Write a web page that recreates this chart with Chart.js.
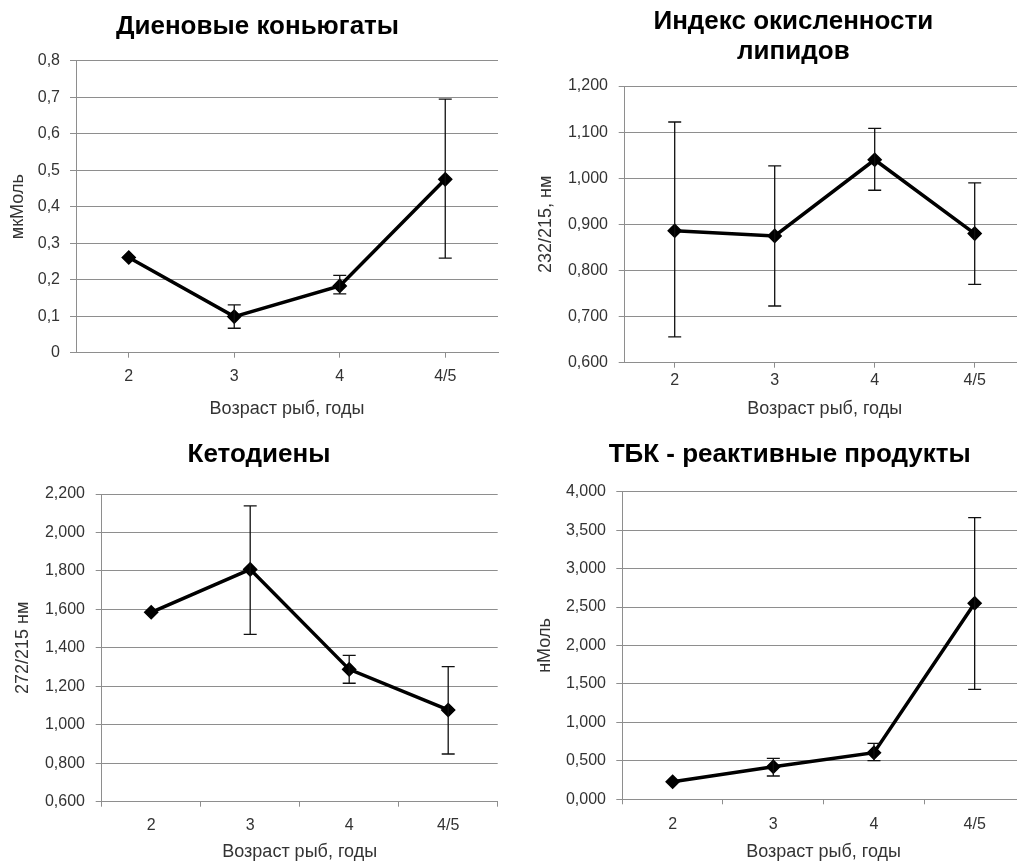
<!DOCTYPE html>
<html>
<head>
<meta charset="utf-8">
<script src="https://cdn.jsdelivr.net/npm/chart.js@4.4.1/dist/chart.umd.min.js"></script>
<style>
html, body { margin: 0; padding: 0; background: #fff; width: 1017px; height: 863px; overflow: hidden; }
.box { position: absolute; }
</style>
</head>
<body>
<div class="box" style="left:0;top:0;width:508px;height:420px"><canvas id="c1"></canvas></div>
<div class="box" style="left:508px;top:0;width:525px;height:420px"><canvas id="c2"></canvas></div>
<div class="box" style="left:0;top:420px;width:508px;height:443px"><canvas id="c3"></canvas></div>
<div class="box" style="left:508px;top:420px;width:525px;height:443px"><canvas id="c4"></canvas></div>
<script>
// data
const ages = ['2', '3', '4', '4/5']
const xTitle = 'Возраст рыб, годы'

// Диеновые коньюгаты
const dienMean = [0.261, 0.099, 0.183, 0.475]
const dienHigh = [null, 0.131, 0.212, 0.695]
const dienLow = [null, 0.067, 0.161, 0.259]
const dienTicks = ['0', '0,1', '0,2', '0,3', '0,4', '0,5', '0,6', '0,7', '0,8']

// Индекс окисленности липидов
const oxMean = [0.886, 0.875, 1.040, 0.880]
const oxHigh = [1.122, 1.027, 1.108, 0.990]
const oxLow = [0.656, 0.723, 0.974, 0.770]
const oxTicks = ['0,600', '0,700', '0,800', '0,900', '1,000', '1,100', '1,200']

// Кетодиены
const ketMean = [1.585, 1.808, 1.288, 1.077]
const ketHigh = [null, 2.138, 1.361, 1.302]
const ketLow = [null, 1.470, 1.216, 0.848]
const ketTicks = ['0,600', '0,800', '1,000', '1,200', '1,400', '1,600', '1,800', '2,000', '2,200']

// ТБК - реактивные продукты
const tbkMean = [0.229, 0.424, 0.606, 2.549]
const tbkHigh = [null, 0.533, 0.728, 3.662]
const tbkLow = [null, 0.303, 0.502, 1.430]
const tbkTicks = ['0,000', '0,500', '1,000', '1,500', '2,000', '2,500', '3,000', '3,500', '4,000']

const FONT = "'Liberation Sans', Arial, sans-serif"
const GRID = '#8e8e8e'

// draws the whisker for each point from the scales
const errorBars = {
    id: 'errorBars',
    afterDatasetsDraw(chart, args, opts) {
        const {ctx, scales: {x, y}} = chart
        ctx.save()
        ctx.strokeStyle = '#111'
        ctx.lineWidth = 1.3
        opts.high.forEach((hi, i) => {
            const lo = opts.low[i]
            if (hi == null) return
            const px = x.getPixelForValue(i)
            const top = y.getPixelForValue(hi)
            const bot = y.getPixelForValue(lo)
            ctx.beginPath()
            ctx.moveTo(px, top); ctx.lineTo(px, bot)
            ctx.moveTo(px - 6.5, top); ctx.lineTo(px + 6.5, top)
            ctx.moveTo(px - 6.5, bot); ctx.lineTo(px + 6.5, bot)
            ctx.stroke()
        })
        ctx.restore()
    }
}

function makeChart(id, c) {
    new Chart(document.getElementById(id), {
        type: 'line',
        data: {
            labels: ages,
            datasets: [{
                data: c.mean,
                borderColor: '#000',
                backgroundColor: '#000',
                borderWidth: 3.5,
                pointStyle: 'rectRot',
                pointRadius: 6.5,
                pointBorderWidth: 1.5,
                tension: 0
            }]
        },
        options: {
            responsive: true,
            maintainAspectRatio: false,
            animation: false,
            layout: {padding: c.pad},
            plugins: {
                legend: {display: false},
                tooltip: {enabled: false},
                title: {
                    display: true,
                    text: c.title,
                    color: '#000',
                    font: {family: FONT, size: 26, weight: 'bold', lineHeight: 1.154},
                    padding: c.titlePad
                },
                errorBars: {high: c.high, low: c.low}
            },
            scales: {
                x: {
                    offset: true,
                    grid: {offset: c.gridOffset, drawOnChartArea: false, drawTicks: true, tickLength: 5, color: GRID},
                    border: {color: GRID, width: 1},
                    ticks: {color: '#333', padding: c.xTickPad, font: {family: FONT, size: 16}},
                    title: {display: true, text: xTitle, color: '#333', font: {family: FONT, size: 18, lineHeight: 1.2}, padding: {top: 0, bottom: c.xTitlePad}},
                    afterFit: s => { s.height = c.xHeight }
                },
                y: {
                    min: c.min,
                    max: c.max,
                    grid: {color: GRID, drawTicks: true, tickLength: 6},
                    border: {color: GRID, width: 1},
                    ticks: {stepSize: c.step, color: '#333', padding: c.yTickPad, font: {family: FONT, size: 16}, callback: (v, i) => c.ticks[i]},
                    title: {display: true, text: c.yTitle, color: '#333', font: {family: FONT, size: 18, lineHeight: 1.2}, padding: {top: c.yTitlePad, bottom: 0}},
                    afterFit: s => { s.width = c.yWidth }
                }
            }
        },
        plugins: [errorBars]
    })
}

makeChart('c1', {
    title: 'Диеновые коньюгаты', yTitle: 'мкМоль',
    mean: dienMean, high: dienHigh, low: dienLow, ticks: dienTicks,
    min: 0, max: 0.8, step: 0.1,
    pad: {left: 17, right: 10, top: 0, bottom: 0},
    titlePad: {top: 12, bottom: 18.7},
    yWidth: 59, yTickPad: 10, yTitlePad: -9.8,
    xHeight: 67.3, xTickPad: 9.7, xTitlePad: 0,
    gridOffset: false
})

makeChart('c2', {
    title: ['Индекс окисленности', 'липидов'], yTitle: '232/215, нм',
    mean: oxMean, high: oxHigh, low: oxLow, ticks: oxTicks,
    min: 0.6, max: 1.2, step: 0.1,
    pad: {left: 54, right: 8.3, top: 0, bottom: 0},
    titlePad: {top: 7, bottom: 19},
    yWidth: 62.7, yTickPad: 10.7, yTitlePad: -26.8,
    xHeight: 57.3, xTickPad: 2.9, xTitlePad: 0,
    gridOffset: false
})

makeChart('c3', {
    title: 'Кетодиены', yTitle: '272/215 нм',
    mean: ketMean, high: ketHigh, low: ketLow, ticks: ketTicks,
    min: 0.6, max: 2.2, step: 0.2,
    pad: {left: 20.3, right: 10.3, top: 0, bottom: 0},
    titlePad: {top: 20, bottom: 24},
    yWidth: 81.4, yTickPad: 10.7, yTitlePad: -8.1,
    xHeight: 61.3, xTickPad: 9.6, xTitlePad: 0.5,
    gridOffset: true
})

makeChart('c4', {
    title: 'ТБК - реактивные продукты', yTitle: 'нМоль',
    mean: tbkMean, high: tbkHigh, low: tbkLow, ticks: tbkTicks,
    min: 0, max: 4, step: 0.5,
    pad: {left: 45.4, right: 7, top: 0, bottom: 0},
    titlePad: {top: 20, bottom: 21.7},
    yWidth: 68.9, yTickPad: 10.3, yTitlePad: -19.5,
    xHeight: 63.7, xTickPad: 10.3, xTitlePad: 0.5,
    gridOffset: true
})
</script>
</body>
</html>
